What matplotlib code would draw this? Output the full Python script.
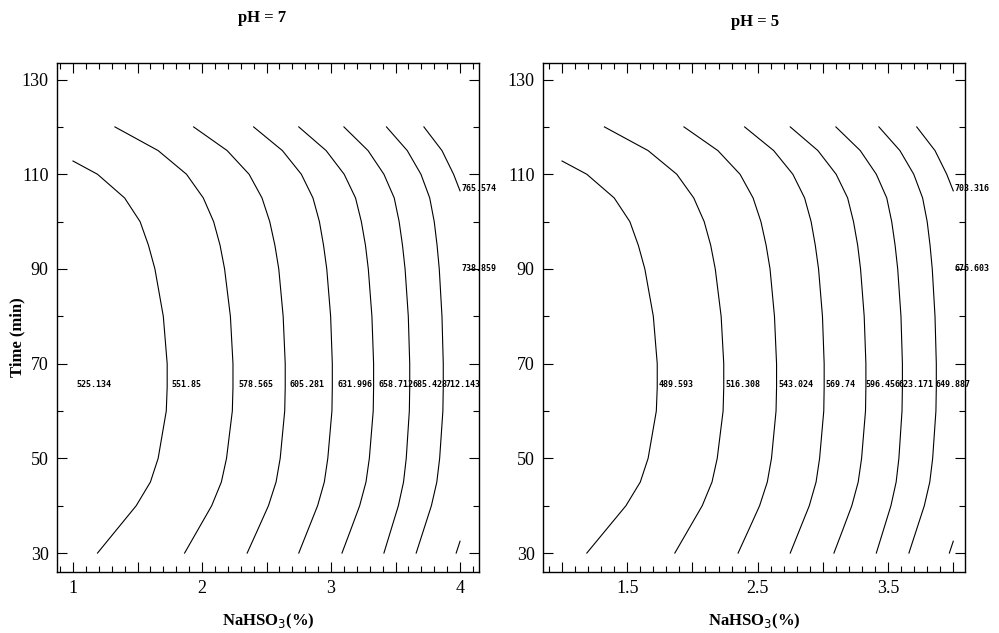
import numpy as np
import matplotlib

matplotlib.use("Agg")
import matplotlib.pyplot as plt  # noqa: E402
from matplotlib.ticker import MultipleLocator, FixedLocator  # noqa: E402

T = [30, 35, 40, 45, 50, 60, 65, 70, 80, 90, 95, 100, 105, 110, 115, 120]
NAN = np.nan
# NaHSO3 (%) position of each contour line at the times above, nan = outside window
LINES = [
    [1.19, 1.34, 1.49, 1.60, 1.66, 1.723, 1.73, 1.73, 1.70, 1.635, 1.585, 1.52, 1.40, 1.19, NAN, NAN],
    [1.865, 1.97, 2.075, 2.15, 2.19, 2.235, 2.24, 2.24, 2.22, 2.175, 2.14, 2.09, 2.01, 1.88, 1.66, 1.325],
    [2.35, 2.433, 2.515, 2.574, 2.606, 2.641, 2.645, 2.645, 2.629, 2.595, 2.565, 2.525, 2.465, 2.365, 2.195, 1.935],
    [2.75, 2.823, 2.896, 2.948, 2.975, 3.007, 3.01, 3.01, 2.997, 2.967, 2.942, 2.91, 2.86, 2.77, 2.623, 2.40],
    [3.085, 3.154, 3.222, 3.271, 3.297, 3.327, 3.33, 3.33, 3.317, 3.289, 3.267, 3.235, 3.19, 3.102, 2.962, 2.75],
    [3.41, 3.466, 3.522, 3.562, 3.583, 3.607, 3.61, 3.61, 3.599, 3.574, 3.554, 3.528, 3.49, 3.41, 3.287, 3.10],
    [3.66, 3.719, 3.778, 3.82, 3.842, 3.867, 3.87, 3.87, 3.86, 3.839, 3.822, 3.80, 3.765, 3.697, 3.591, 3.43],
    [3.97, NAN, NAN, NAN, NAN, NAN, NAN, NAN, NAN, NAN, NAN, NAN, NAN, 3.95, 3.86, 3.72],
]
# points where lines leave the data window (line index -> list of (x, t))
EDGE_PTS = {0: [(1.0, 112.8)], 7: [(4.0, 32.5), (4.0, 106.5)]}

LEVELS_PH7 = ["525.134", "551.85", "578.565", "605.281", "631.996", "658.712",
              "685.428", "712.143", "738.859", "765.574"]
LEVELS_PH5 = ["489.593", "516.308", "543.024", "569.74", "596.456", "623.171",
              "649.887", "676.603", "703.316"]
LABEL_T = 65.5
LABEL_X_PH7 = [1.03, 1.76, 2.28, 2.68, 3.05, 3.37, 3.63, 3.89]
LABEL_X_PH5 = [1.74, 2.25, 2.66, 3.02, 3.33, 3.58, 3.86]
EDGE_LABELS_PH7 = [("765.574", 107.0), ("738.859", 90.0)]
EDGE_LABELS_PH5 = [("703.316", 107.0), ("676.603", 90.0)]

SERIF = ["Liberation Serif", "DejaVu Serif"]


def draw_lines(ax):
    for i, xs in enumerate(LINES):
        xs = list(xs)
        ts = list(T)
        for ex, et in EDGE_PTS.get(i, []):
            xs.append(ex)
            ts.append(et)
        order = np.argsort(ts)
        xs = np.array(xs)[order]
        ts = np.array(ts)[order]
        # nan entries split the line into its visible pieces
        ax.plot(xs, ts, color="black", lw=0.8)


def style_axes(ax, xlim, major, labeled):
    ax.set_xlim(*xlim)
    ax.set_ylim(26.0, 133.5)
    ax.xaxis.set_major_locator(FixedLocator(major))
    ax.xaxis.set_minor_locator(MultipleLocator(0.1))
    ax.set_xticklabels([labeled.get(round(m, 2), "") for m in major])
    ax.set_yticks([30, 50, 70, 90, 110, 130])
    ax.yaxis.set_minor_locator(MultipleLocator(10))
    ax.tick_params(which="both", direction="in", top=True, right=True, width=0.8)
    ax.tick_params(which="major", length=7, labelsize=13, pad=6)
    ax.tick_params(which="minor", length=4)
    for lab in ax.get_xticklabels() + ax.get_yticklabels():
        lab.set_family(SERIF)
    for s in ax.spines.values():
        s.set_linewidth(1.0)


fig = plt.figure(figsize=(9.99, 6.33), dpi=100)
ax1 = fig.add_axes([57 / 999, 1 - 572 / 633, 422 / 999, 509 / 633])
ax2 = fig.add_axes([543 / 999, 1 - 572 / 633, 422 / 999, 509 / 633])

for ax in (ax1, ax2):
    draw_lines(ax)

style_axes(ax1, (0.876, 4.147), [1, 1.5, 2, 2.5, 3, 3.5, 4],
           {1: "1", 2: "2", 3: "3", 4: "4"})
style_axes(ax2, (0.854, 4.09), [1, 1.5, 2, 2.5, 3, 3.5, 4],
           {1.5: "1.5", 2.5: "2.5", 3.5: "3.5"})

lab_kw = dict(fontsize=6, family="DejaVu Sans Mono", fontweight="bold",
              va="center", ha="left")
for x, s in zip(LABEL_X_PH7, LEVELS_PH7[:8]):
    ax1.text(x, LABEL_T, s, **lab_kw)
for s, t in EDGE_LABELS_PH7:
    ax1.text(4.01, t, s, **lab_kw)
for x, s in zip(LABEL_X_PH5, LEVELS_PH5[:7]):
    ax2.text(x, LABEL_T, s, **lab_kw)
for s, t in EDGE_LABELS_PH5:
    ax2.text(4.01, t, s, **lab_kw)

txt_kw = dict(fontsize=12, fontweight="bold", family=SERIF, ha="center", va="center")
fig.text(17 / 999, 1 - 337 / 633, "Time (min)", rotation=90, **txt_kw)
fig.text(268 / 999, 1 - 621 / 633, "NaHSO$_3$(%)", **txt_kw)
fig.text(754 / 999, 1 - 621 / 633, "NaHSO$_3$(%)", **txt_kw)
fig.text(262 / 999, 1 - 18 / 633, "pH = 7", fontsize=12, fontweight="bold",
         family=SERIF, ha="center", va="center")
fig.text(755 / 999, 1 - 22 / 633, "pH = 5", fontsize=12, fontweight="bold",
         family=SERIF, ha="center", va="center")

fig.savefig("out.png", dpi=100)
